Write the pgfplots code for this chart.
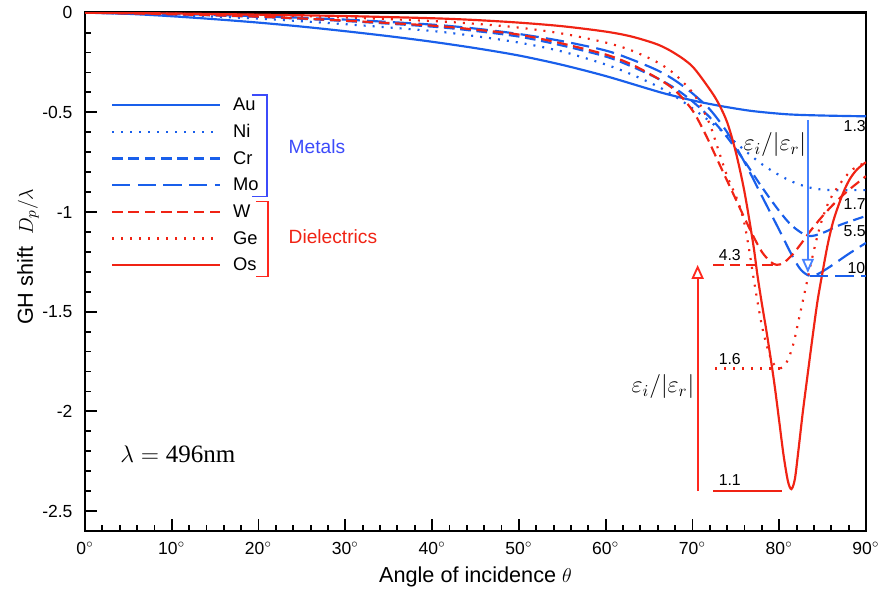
\documentclass[border=0pt]{standalone}
\usepackage{fontspec}
\setmainfont{Liberation Sans}
\newfontfamily\seriffont{Liberation Serif}
\usepackage{pgfplots}
\pgfplotsset{compat=1.18}
\usetikzlibrary{arrows.meta}

\definecolor{cblue}{RGB}{25,95,235}
\definecolor{cred}{RGB}{240,35,20}
\definecolor{tblue}{RGB}{60,75,250}
\definecolor{ablue}{RGB}{70,130,255}
\definecolor{ared}{RGB}{255,40,30}

\pgfplotsset{
  sAu/.style={cblue, line width=1.3pt, solid},
  sNi/.style={cblue, line width=1.3pt, dash pattern=on 1.2pt off 4.2pt},
  sCr/.style={cblue, line width=1.3pt, dash pattern=on 6.4pt off 3.4pt},
  sMo/.style={cblue, line width=1.3pt, dash pattern=on 11pt off 4.4pt},
  sW/.style={cred, line width=1.3pt, dash pattern=on 6.4pt off 3.4pt},
  sGe/.style={cred, line width=1.3pt, dash pattern=on 1.2pt off 4.2pt},
  sOs/.style={cred, line width=1.3pt, solid},
}

\begin{document}
\begin{tikzpicture}
\begin{axis}[
  name=ax,
  scale only axis,
  width=468.6pt, height=311pt,
  xmin=0, xmax=90, ymin=-2.6, ymax=0,
  xtick={0,10,...,90}, ytick={-2.5,-2,-1.5,-1,-0.5,0},
  minor x tick num=4, minor y tick num=4,
  tick align=inside, tick pos=left,
  major tick length=7.2pt, minor tick length=3.6pt,
  axis line style={line width=1.5pt},
  every tick/.style={black, line width=1.1pt},
  tick label style={font=\fontsize{10.5}{12}\selectfont},
  /pgf/number format/assume math mode=true,
  xticklabel={\pgfmathprintnumber{\tick}$^{\circ}$},
  xticklabel style={yshift=-3pt},
  yticklabel style={xshift=-4pt},
  xlabel={Angle of incidence $\theta$},
  ylabel={GH shift~~$D_p/\lambda$},
  label style={font=\fontsize{13}{15}\selectfont},
  xlabel style={at={(axis description cs:0.5,-0.089)}, anchor=center},
  ylabel style={at={(axis description cs:-0.073,0.529)}, anchor=center},
  legend style={draw=none, fill=none, at={(0.0329,0.848)}, anchor=north west,
    inner sep=0pt, row sep=0pt, column sep=7.4pt,
    font=\fontsize{11}{13}\selectfont,
    nodes={inner sep=0pt, text height=11.5pt, text depth=4.5pt}},
  legend cell align=left,
  legend image code/.code={\draw[#1] (0pt,0pt) -- (64.6pt,0pt);},
]

% metals
\addplot[sAu, smooth] coordinates {
  (0,0) (5,-0.006) (10,-0.018) (15,-0.033) (20,-0.05) (25,-0.07) (30,-0.093)
  (35,-0.118) (40,-0.146) (45,-0.178) (50,-0.215) (55,-0.262) (60,-0.318)
  (65,-0.383) (67,-0.408) (70,-0.44) (72,-0.458) (74,-0.474) (77,-0.494)
  (81,-0.51) (85,-0.516) (90,-0.52)
};
\addlegendentry{Au}
\addplot[sNi, smooth] coordinates {
  (0,0) (10,-0.012) (20,-0.03) (30,-0.058) (40,-0.092) (45,-0.118) (50,-0.15)
  (55,-0.195) (60,-0.26) (63,-0.31) (66,-0.37) (68,-0.42) (70,-0.48)
  (72,-0.545) (74,-0.615) (76,-0.69) (78,-0.76) (80,-0.815) (82,-0.857)
  (84,-0.882) (86,-0.89) (90,-0.89)
};
\addlegendentry{Ni}
\addplot[sCr, smooth] coordinates {
  (0,0) (10,-0.008) (20,-0.021) (30,-0.042) (40,-0.07) (45,-0.092) (50,-0.12)
  (55,-0.165) (60,-0.22) (63,-0.27) (66,-0.33) (68,-0.38) (70,-0.445)
  (72,-0.525) (74,-0.625) (76,-0.745) (78,-0.875) (80,-0.995) (81.5,-1.07)
  (83.3,-1.12) (85,-1.105) (87,-1.065) (90,-1.02)
};
\addlegendentry{Cr}
\addplot[sMo, smooth] coordinates {
  (0,0) (10,-0.007) (20,-0.018) (30,-0.035) (40,-0.06) (45,-0.08) (50,-0.107)
  (55,-0.143) (60,-0.19) (63,-0.235) (66,-0.29) (68,-0.34) (70,-0.405)
  (72,-0.485) (74,-0.6) (76,-0.75) (78,-0.92) (80,-1.09) (81.5,-1.22)
  (82.5,-1.29) (83.5,-1.32) (84.5,-1.31) (86,-1.27) (88,-1.21) (90,-1.155)
};
\addlegendentry{Mo}

% dielectrics
\addplot[sW, smooth] coordinates {
  (0,0) (10,-0.008) (20,-0.02) (30,-0.04) (40,-0.065) (45,-0.085) (50,-0.11)
  (55,-0.155) (60,-0.21) (63,-0.26) (66,-0.33) (68,-0.39) (70,-0.49)
  (71.5,-0.61) (73,-0.75) (74.5,-0.89) (76,-1.03) (77,-1.12) (78,-1.2)
  (79,-1.25) (79.7,-1.265) (80.5,-1.255) (81.5,-1.215) (82.5,-1.16)
  (83.5,-1.1) (85,-1.02) (86.5,-0.95) (88,-0.89) (90,-0.82)
};
\addlegendentry{W}
\addplot[sGe, smooth] coordinates {
  (0,0) (10,-0.005) (20,-0.012) (30,-0.024) (40,-0.042) (45,-0.056) (50,-0.075)
  (55,-0.105) (60,-0.15) (63,-0.19) (66,-0.25) (68,-0.31) (70,-0.4)
  (71,-0.47) (72,-0.56) (73,-0.69) (74,-0.82) (75,-0.92) (75.5,-0.98)
  (76,-1.06) (76.5,-1.18) (77,-1.32) (77.5,-1.45) (78,-1.57) (78.5,-1.66)
  (79,-1.73) (79.5,-1.77) (80.1,-1.785) (80.7,-1.765) (81.2,-1.72)
  (81.7,-1.65) (82.3,-1.53) (82.8,-1.43) (83.3,-1.33) (83.8,-1.23)
  (84.4,-1.12) (85,-1.03) (85.7,-0.95) (86.5,-0.89) (87.5,-0.83)
  (88.5,-0.785) (90,-0.75)
};
\addlegendentry{Ge}
\addplot[sOs, smooth] coordinates {
  (0,0) (10,-0.004) (20,-0.01) (30,-0.017) (40,-0.028) (45,-0.037) (50,-0.05)
  (55,-0.068) (60,-0.095) (63,-0.12) (66,-0.16) (68,-0.205) (70,-0.27)
  (72,-0.385) (73,-0.455) (74,-0.55) (75,-0.7) (76,-0.9) (77,-1.16)
  (77.5,-1.32) (78,-1.46) (78.5,-1.59) (79,-1.73) (79.5,-1.88) (80,-2.05)
  (80.5,-2.22) (81,-2.35) (81.4,-2.39) (81.8,-2.34) (82.2,-2.2) (82.7,-2.01)
  (83.2,-1.84) (83.8,-1.64) (84.4,-1.45) (85,-1.3) (85.6,-1.16) (86.2,-1.05)
  (86.8,-0.97) (87.5,-0.89) (88.2,-0.83) (89,-0.785) (90,-0.75)
};
\addlegendentry{Os}

% minimum marker lines
\addplot[sMo, forget plot] coordinates {(83.5,-1.32) (90,-1.32)};
\addplot[sW, forget plot] coordinates {(72.4,-1.265) (79.3,-1.265)};
\addplot[sGe, forget plot] coordinates {(72.6,-1.785) (80.3,-1.785)};
\addplot[sOs, forget plot] coordinates {(72.4,-2.40) (80.3,-2.40)};

% arrows
\draw[ablue, line width=1.1pt, -{Triangle[open, width=7.2pt, length=8.4pt]}]
  (axis cs:83.3,-0.54) -- (axis cs:83.3,-1.305);
\draw[draw=ared, line width=1.1pt, -{Triangle[open, width=7.2pt, length=8.4pt]}]
  (axis cs:70.6,-2.40) -- (axis cs:70.6,-1.265);
\node[font=\fontsize{14}{16}\selectfont] at (axis cs:79.5,-0.663) {$\varepsilon_i/\bigl|\varepsilon_r\bigr|$};
\node[font=\fontsize{14}{16}\selectfont] at (axis cs:66.6,-1.877) {$\varepsilon_i/\bigl|\varepsilon_r\bigr|$};

% value labels
\begin{scope}[every node/.style={font=\fontsize{9.5}{11}\selectfont}]
\node at (axis cs:74.3,-1.215) {4.3};
\node at (axis cs:74.3,-1.735) {1.6};
\node at (axis cs:74.3,-2.346) {1.1};
\node at (axis cs:88.7,-0.571) {1.3};
\node at (axis cs:88.7,-0.958) {1.7};
\node at (axis cs:88.7,-1.097) {5.5};
\node at (axis cs:88.9,-1.281) {10};
\end{scope}

% group brackets
\draw[tblue, line width=1pt] (axis cs:19.24,-0.412) -- (axis cs:20.94,-0.412)
  -- (axis cs:20.94,-0.922) -- (axis cs:19.24,-0.922);
\draw[draw=ared, line width=1pt] (axis cs:19.7,-0.947) -- (axis cs:21.05,-0.947)
  -- (axis cs:21.05,-1.323) -- (axis cs:19.7,-1.323);
\node[anchor=west, text=tblue, font=\fontsize{11.5}{13}\selectfont] at (axis cs:22.8,-0.671) {Metals};
\node[anchor=west, text=cred, font=\fontsize{11.5}{13}\selectfont] at (axis cs:22.8,-1.122) {Dielectrics};

\node[font=\seriffont\fontsize{15}{17}\selectfont] at (axis cs:10.7,-2.216) {$\lambda = {}$496nm};
\end{axis}
\pgfresetboundingbox
\useasboundingbox ([xshift=-51pt,yshift=-39pt]ax.south west) rectangle ([xshift=9pt,yshift=7.6pt]ax.north east);
\end{tikzpicture}
\end{document}
